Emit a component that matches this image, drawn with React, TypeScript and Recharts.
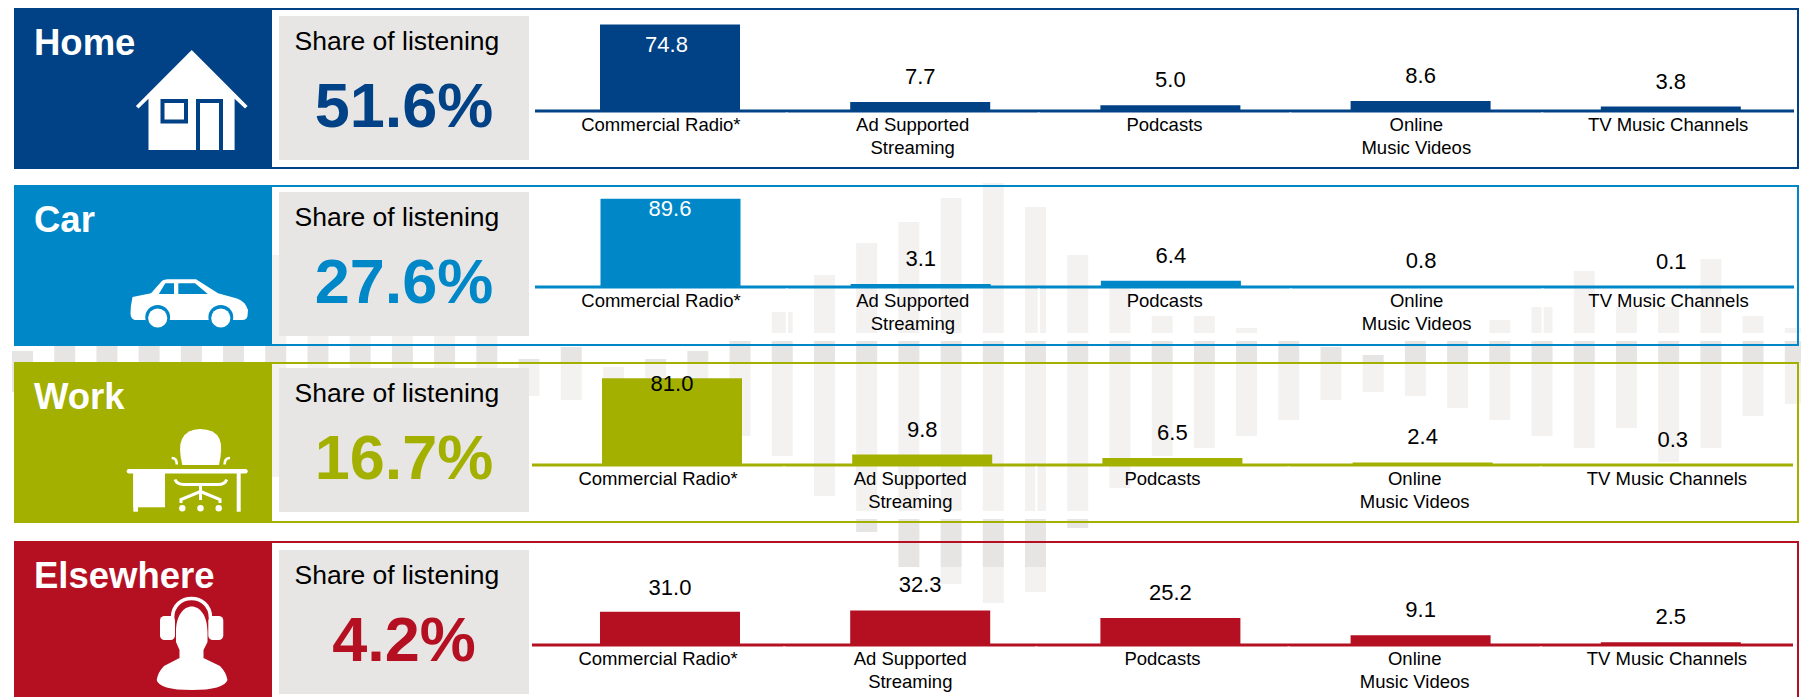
import React from 'react';
import { BarChart, Bar, XAxis, YAxis, LabelList } from 'recharts';

const FONT = '"Liberation Sans", Arial, sans-serif';

// ---------- data ----------
const categories = ['Commercial Radio*', 'Ad Supported Streaming', 'Podcasts', 'Online Music Videos', 'TV Music Channels'];
const categoryLines = [['Commercial Radio*'], ['Ad Supported', 'Streaming'], ['Podcasts'], ['Online', 'Music Videos'], ['TV Music Channels']];
const homeValues = [74.8, 7.7, 5.0, 8.6, 3.8];
const carValues = [89.6, 3.1, 6.4, 0.8, 0.1];
const workValues = [81.0, 9.8, 6.5, 2.4, 0.3];
const elsewhereValues = [31.0, 32.3, 25.2, 9.1, 2.5];
const panelNames = ['Home', 'Car', 'Work', 'Elsewhere'];
const panelShares = ['51.6%', '27.6%', '16.7%', '4.2%'];

// decorative waveform behind the panels: top and bottom of each bar
const waveTop = [351, 320, 300, 280, 270, 260, 255, 280, 300, 310, 320, 330, 359, 347, 367, 359, 351, 341, 312, 275, 243, 222, 198, 183, 207, 255, 285, 316, 316, 328, 338, 347, 355, 338, 338, 320, 307, 271, 307, 307, 259, 316, 328];
const waveBottom = [392, 420, 430, 440, 450, 465, 477, 460, 450, 440, 420, 410, 396, 400, 400, 410, 420, 436, 456, 496, 532, 567, 584, 603, 592, 528, 488, 456, 448, 436, 420, 400, 392, 396, 408, 420, 436, 448, 428, 462, 448, 416, 404];
const waveData = waveTop.map((t, i) => ({ i, range: [t, waveBottom[i]] }));

// ---------- layout / style ----------
const PLOT_H = 100;
const panels = [
  { values: homeValues, color: '#004285', top: 8, h: 161, box: 16, base: 110.7, lineL: 535, lineR: 1794, padL: 10, padR: -2, scale: 1.156, firstDy: 19, firstDx: -3.5, firstFill: '#fff' },
  { values: carValues, color: '#0087C8', top: 185, h: 161, box: 192, base: 287, lineL: 534.5, lineR: 1794, padL: 10.5, padR: -2, scale: 0.985, firstDy: 9, firstDx: -0.5, firstFill: '#fff' },
  { values: workValues, color: '#A3B000', top: 362, h: 161, box: 368, base: 464.7, lineL: 532, lineR: 1793, padL: 15, padR: -5, scale: 1.07, firstDy: 5, firstDx: 0, firstFill: '#000' },
  { values: elsewhereValues, color: '#B41022', top: 541, h: 200, box: 550, base: 645, lineL: 532, lineR: 1793, padL: 13, padR: -3, scale: 1.07, firstDy: -25, firstDx: 0, firstFill: '#000' },
];

const HouseIcon = ({ c }: { c: string }) => (
  <g>
    <path fill="#fff" d="M191.7 50 L247.6 106 L245 108.6 L234.6 98.7 L234.6 150 L148.5 150 L148.5 98.7 L138.5 108.6 L135.9 106 Z" />
    <rect x={162.5} y={101} width={23.5} height={20.5} fill="#fff" stroke={c} strokeWidth={4} />
    <rect x={198} y={101} width={23} height={51} fill="#fff" stroke={c} strokeWidth={4} />
    <rect x={190} y={150} width={40} height={6} fill={c} />
  </g>
);

const CarIcon = ({ c }: { c: string }) => (
  <g>
    <path fill="#fff" d="M132.5 297 L151 293.3 L161 282 Q163 279.5 168 279.3 L196 279.3 L218 293.3 L237 298.5 Q245 301 248 310 L247.5 316 Q247 320 242 320 L135 320 Q130.5 319 130.5 313 Q130.5 306 132.5 297 Z" />
    <path fill={c} d="M158.8 294 L165.3 283.3 L174 283.3 L174 294 Z M178.3 283.3 L195 283.3 L207.8 294 L178.3 294 Z" />
    <circle cx={157.7} cy={317.3} r={12.4} fill={c} />
    <circle cx={220.8} cy={317.3} r={12.4} fill={c} />
    <rect x={130} y={320} width={118} height={10} fill={c} />
    <circle cx={157.7} cy={318} r={9.6} fill="#fff" />
    <circle cx={220.8} cy={318} r={9.6} fill="#fff" />
  </g>
);

const DeskIcon = () => (
  <g fill="#fff" stroke="none">
    <rect x={126.7} y={469} width={121} height={4.4} rx={2.2} />
    <rect x={133.3} y={473} width={31.7} height={34.3} />
    <rect x={133.3} y={473} width={4.7} height={38.7} />
    <rect x={236.7} y={473} width={4} height={38.7} />
    <path d="M182.3 465 Q178 447 182 439 Q187 429 200 429 Q215 429 219.5 439 Q223 447 219 465 Z" />
    <path fill="none" stroke="#fff" strokeWidth={2.6} d="M171.7 458 Q177 458 176.8 464.5 M230 458 Q224.5 458 224.6 464.5" />
    <path fill="none" stroke="#fff" strokeWidth={3} d="M175 479.5 Q177 484.5 184 484.5 L218 484.5 Q225 484.5 226.7 479.5" />
    <path fill="none" stroke="#fff" strokeWidth={3} d="M200.5 485 L200.5 500 M200.5 491.5 L181 499.5 L181 503 M200.5 491.5 L220 499.5 L220 503" />
    <circle cx={182.3} cy={508.3} r={3.2} />
    <circle cx={200.5} cy={508.3} r={3.2} />
    <circle cx={218.7} cy={508.3} r={3.2} />
  </g>
);

const PersonIcon = () => (
  <g fill="#fff">
    <rect x={160} y={616} width={15} height={24} rx={4.5} />
    <rect x={208.3} y={616} width={15} height={24} rx={4.5} />
    <path fill="none" stroke="#fff" strokeWidth={3.6} d="M172.5 618 C172.5 592 210.5 592 210.5 618" />
    <path d="M176 632 C176 598 207.5 598 207.5 632 L207.5 642 L203.5 650 L203.5 658 L220 666 Q226 672 227.5 680 Q224 690 191.7 690 Q159 690 156.7 680 Q158 672 164 666 L179.5 658 L179.5 650 L176 642 Z" />
  </g>
);

const icons = [HouseIcon, CarIcon, DeskIcon, PersonIcon];

const Chrome = () => (
  <svg width={1801} height={697} style={{ position: 'absolute', left: 0, top: 0 }}>
    {/* wash that fades the waveform inside the panels */}
    <rect x={272} y={170} width={263} height={175} fill="#fff" opacity={0.5} />
    <rect x={535} y={170} width={1266} height={163} fill="#fff" opacity={0.5} />
    <rect x={535} y={333} width={1266} height={8} fill="#fff" />
    <rect x={272} y={363} width={263} height={159} fill="#fff" opacity={0.5} />
    <rect x={535} y={363} width={1266} height={148} fill="#fff" opacity={0.5} />
    <rect x={535} y={511} width={1266} height={8} fill="#fff" />
    <rect x={272} y={567} width={1529} height={130} fill="#fff" opacity={0.5} />
    {panels.map((p, i) => {
      const Icon = icons[i];
      return (
        <g key={i}>
          <rect x={15} y={p.top + 1} width={1783} height={p.h - 2} fill="none" stroke={p.color} strokeWidth={2} />
          <rect x={14} y={p.top} width={258} height={p.h} fill={p.color} />
          <rect x={279} y={p.box} width={250} height={144} fill="#E7E6E4" />
          <text x={34} y={p.top + 47} fill="#fff" fontFamily={FONT} fontWeight={700} fontSize={36.5}>{panelNames[i]}</text>
          <text x={294.5} y={p.box + 34} fill="#000" fontFamily={FONT} fontSize={26.5}>Share of listening</text>
          <text x={404} y={p.box + 110.7} fill={p.color} fontFamily={FONT} fontWeight={700} fontSize={63} textAnchor="middle">{panelShares[i]}</text>
          <Icon c={p.color} />
        </g>
      );
    })}
  </svg>
);

const Waveform = () => (
  <div style={{ position: 'absolute', left: 1.3, top: 0 }}>
    <BarChart width={1815} height={697} data={waveData} margin={{ top: 0, right: 0, bottom: 0, left: 0 }}>
      <XAxis dataKey="i" hide height={0} />
      <YAxis hide reversed domain={[0, 697]} />
      <Bar dataKey="range" fill="#E6E5E3" barSize={21} isAnimationActive={false} />
    </BarChart>
  </div>
);

const Panel = ({ p }: { p: (typeof panels)[number] }) => {
  const data = categories.map((cat, i) => ({ cat, value: p.values[i] }));
  const width = p.lineR - p.lineL;
  const band = width / categories.length;
  const tick = (t: any) => {
    const lines = categoryLines[t.index] ?? [String(t.payload.value)];
    return (
      <g>
        {t.index < categories.length - 1 && (
          <line x1={t.x + band / 2} x2={t.x + band / 2} y1={t.y + 1.5} y2={t.y + 46} stroke="#fff" strokeWidth={2.2} />
        )}
        {lines.map((l: string, k: number) => (
          <text key={k} x={t.x} y={t.y + 20 + k * 22.7} textAnchor="middle" fill="#000" fontFamily={FONT} fontSize={18.5}>{l}</text>
        ))}
      </g>
    );
  };
  const valueLabel = (l: any) => {
    const first = l.index === 0;
    const dy = first ? p.firstDy : -26;
    const cx = l.x + l.width / 2 + (first ? p.firstDx : 0);
    return (
      <text x={cx} y={l.y + dy + 8} textAnchor="middle" fill={first ? p.firstFill : '#000'} fontFamily={FONT} fontSize={22}>
        {Number(l.value).toFixed(1)}
      </text>
    );
  };
  return (
    <div style={{ position: 'absolute', left: p.lineL, top: p.base - PLOT_H }}>
      <BarChart width={width} height={PLOT_H + 70} data={data} margin={{ top: 0, right: 0, bottom: 0, left: 0 }}>
        <XAxis xAxisId="bars" dataKey="cat" hide height={0} padding={{ left: p.padL, right: p.padR }} />
        <XAxis xAxisId="labels" dataKey="cat" height={70} interval={0} tickLine={false} tickSize={0} tickMargin={0} tick={tick} axisLine={{ stroke: p.color, strokeWidth: 3 }} />
        <YAxis hide domain={[0, PLOT_H / p.scale]} />
        <Bar xAxisId="bars" dataKey="value" fill={p.color} barSize={140} isAnimationActive={false}>
          <LabelList dataKey="value" content={valueLabel} />
        </Bar>
      </BarChart>
    </div>
  );
};

export default function App() {
  return (
    <div style={{ position: 'absolute', left: 0, top: 0, width: 1801, height: 697, overflow: 'hidden', background: '#fff' }}>
      <Waveform />
      <Chrome />
      {panels.map((p, i) => <Panel key={i} p={p} />)}
    </div>
  );
}
